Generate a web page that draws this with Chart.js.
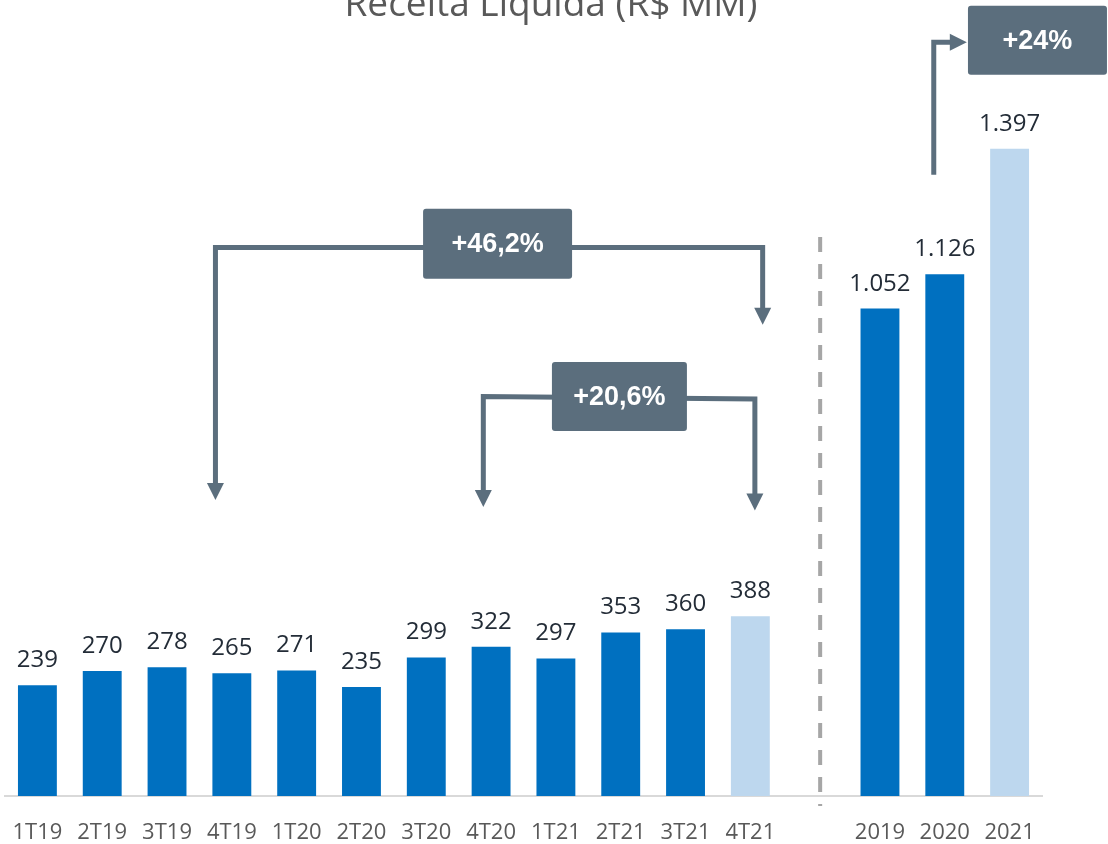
<!DOCTYPE html>
<html>
<head>
<meta charset="utf-8">
<title>Receita Líquida</title>
<script src="https://cdn.jsdelivr.net/npm/chart.js@4/dist/chart.umd.min.js"></script>
<style>
  body { margin: 0; background: #fff; }
  #chart { display: block; }
</style>
</head>
<body>
<canvas id="chart" width="1108" height="844"></canvas>
<script>
// categorias: 12 trimestres, um espaço vazio, 3 anos
const categories = ['1T19', '2T19', '3T19', '4T19', '1T20', '2T20', '3T20', '4T20', '1T21', '2T21', '3T21', '4T21', '', '2019', '2020', '2021'];
const revenue = [239, 270, 278, 265, 271, 235, 299, 322, 297, 353, 360, 388, null, 1052, 1126, 1397];
const currentPeriods = ['4T21', '2021'];
const growthLabels = ['+46,2%', '+20,6%', '+24%'];
const chartTitle = 'Receita Líquida (R$ MM)';

const DARK = '#0070C0';
const LIGHT = '#BDD7EE';
const ANNOT = '#5B6E7D';

function fmt(v) {
    // formato pt-BR: 1.052
    return String(v).replace(/\B(?=(\d{3})+(?!\d))/g, '.');
}

function arrowHead(ctx, x, y, dir) {
    const len = 17, half = 8.5;
    ctx.beginPath();
    if (dir === 'down') {
        ctx.moveTo(x, y);
        ctx.lineTo(x - half, y - len);
        ctx.lineTo(x + half, y - len);
    } else if (dir === 'right') {
        ctx.moveTo(x, y);
        ctx.lineTo(x - len, y - half);
        ctx.lineTo(x - len, y + half);
    }
    ctx.closePath();
    ctx.fill();
}

function labelBox(ctx, cx, cy, w, h, text) {
    ctx.fillStyle = ANNOT;
    ctx.beginPath();
    ctx.roundRect(cx - w / 2, cy - h / 2, w, h, 3);
    ctx.fill();
    ctx.fillStyle = '#fff';
    ctx.font = 'bold 27px "Liberation Sans", Arial, sans-serif';
    ctx.textAlign = 'center';
    ctx.textBaseline = 'middle';
    ctx.fillText(text, cx, cy + 1);
}

const extras = {
    id: 'extras',
    afterDraw(chart) {
        const ctx = chart.ctx;
        const xs = chart.scales.x;
        const ys = chart.scales.y;
        const X = i => xs.getPixelForValue(i);
        const Y = v => ys.getPixelForValue(v);

        ctx.save();

        // titulo (cortado no topo)
        ctx.fillStyle = '#595959';
        ctx.font = '37px "Open Sans", sans-serif';
        ctx.textAlign = 'center';
        ctx.textBaseline = 'alphabetic';
        ctx.fillText(chartTitle, 551, 16);

        // rótulos das barras
        const meta = chart.getDatasetMeta(0);
        ctx.fillStyle = '#232c37';
        ctx.font = '24px "Open Sans", sans-serif';
        meta.data.forEach((bar, i) => {
            if (revenue[i] == null) return;
            ctx.fillText(fmt(revenue[i]), bar.x, bar.y - 18);
        });

        // linha tracejada separando trimestres e anos
        ctx.strokeStyle = '#A6A6A6';
        ctx.lineWidth = 4;
        ctx.setLineDash([15, 12]);
        const sepX = (X(11) + X(13)) / 2 + 5;
        ctx.beginPath();
        ctx.moveTo(sepX, 237);
        ctx.lineTo(sepX, chart.chartArea.bottom + 10);
        ctx.stroke();
        ctx.setLineDash([]);

        // conectores
        ctx.strokeStyle = ANNOT;
        ctx.fillStyle = ANNOT;
        ctx.lineWidth = 5;
        ctx.lineJoin = 'miter';
        ctx.lineCap = 'butt';

        const brackets = [
            { l: 2.747, r: 11.19, lvlL: 1184, lvlR: 1184, tipL: 639, tipR: 1017, bx: 7.10, by: 1192, w: 149, h: 70, text: growthLabels[0] },
            { l: 6.88, r: 11.07, lvlL: 862, lvlR: 857, tipL: 624, tipR: 616, bx: 8.98, by: 862, w: 135, h: 69, text: growthLabels[1] }
        ];
        brackets.forEach(b => {
            const xl = X(b.l), xr = X(b.r);
            ctx.beginPath();
            ctx.moveTo(xl, Y(b.tipL) - 16);
            ctx.lineTo(xl, Y(b.lvlL));
            ctx.lineTo(xr, Y(b.lvlR));
            ctx.lineTo(xr, Y(b.tipR) - 16);
            ctx.stroke();
            arrowHead(ctx, xl, Y(b.tipL), 'down');
            arrowHead(ctx, xr, Y(b.tipR), 'down');
            labelBox(ctx, X(b.bx), Y(b.by), b.w, b.h, b.text);
            ctx.strokeStyle = ANNOT;
            ctx.fillStyle = ANNOT;
        });

        // conector anual
        const ax = X(13.83), tipX = X(14.34);
        ctx.beginPath();
        ctx.moveTo(ax, Y(1341));
        ctx.lineTo(ax, Y(1627));
        ctx.lineTo(tipX - 16, Y(1627));
        ctx.stroke();
        arrowHead(ctx, tipX, Y(1627), 'right');
        labelBox(ctx, X(15.43), Y(1631), 139, 69, growthLabels[2]);

        ctx.restore();
    }
};

new Chart(document.getElementById('chart'), {
    type: 'bar',
    data: {
        labels: categories,
        datasets: [{
            data: revenue,
            backgroundColor: categories.map(c => currentPeriods.includes(c) ? LIGHT : DARK),
            categoryPercentage: 1,
            barPercentage: 0.6,
            borderWidth: 0
        }]
    },
    options: {
        responsive: false,
        animation: false,
        layout: { padding: { left: 5, right: 66, top: 0, bottom: 0 } },
        plugins: {
            legend: { display: false },
            tooltip: { enabled: false },
            title: { display: false }
        },
        scales: {
            x: {
                grid: { display: false, drawTicks: false },
                border: { display: true, color: '#D9D9D9', width: 2 },
                ticks: {
                    color: '#595959',
                    font: { family: '"Open Sans", sans-serif', size: 22 },
                    padding: 24,
                    autoSkip: false,
                    maxRotation: 0
                },
                afterFit(scale) {
                    scale.height = 48;
                    scale.paddingLeft = 0;
                    scale.paddingRight = 0;
                }
            },
            y: {
                display: false,
                min: 0,
                max: 1718
            }
        }
    },
    plugins: [extras]
});
</script>
</body>
</html>
